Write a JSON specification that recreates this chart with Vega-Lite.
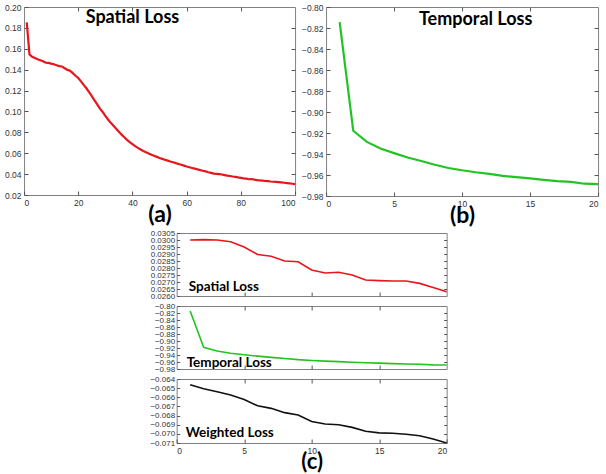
{
  "$schema": "https://vega.github.io/schema/vega-lite/v6.json",
  "padding": {"left": 4, "top": 2, "right": 2, "bottom": 0},
  "background": "white",
  "center": true,
  "spacing": 0,
  "config": {
    "view": {"stroke": "#808080", "strokeWidth": 1},
    "axis": {
      "domain": false, "grid": false, "tickColor": "#555", "tickSize": -4, "labelPadding": 7,
      "labelFont": "Liberation Sans", "labelFontSize": 8.5, "labelColor": "#333",
      "titleFont": "Lato", "titleFontWeight": "bold", "titleFontSize": 23, "titleColor": "#000", "titlePadding": 0
    },
    "text": {"font": "Lato", "fontWeight": "bold", "color": "#000"}
  },
  "datasets": {
    "spatial100": [
      {"epoch":1,"loss":0.1852},{"epoch":2,"loss":0.1546},{"epoch":3,"loss":0.1524},{"epoch":4,"loss":0.1512},{"epoch":5,"loss":0.1499},
      {"epoch":6,"loss":0.1490},{"epoch":7,"loss":0.1480},{"epoch":8,"loss":0.1466},{"epoch":9,"loss":0.1465},{"epoch":10,"loss":0.1458},
      {"epoch":11,"loss":0.1452},{"epoch":12,"loss":0.1443},{"epoch":13,"loss":0.1434},{"epoch":14,"loss":0.1430},{"epoch":15,"loss":0.1414},
      {"epoch":16,"loss":0.1398},{"epoch":17,"loss":0.1389},{"epoch":18,"loss":0.1367},{"epoch":19,"loss":0.1342},{"epoch":20,"loss":0.1320},
      {"epoch":21,"loss":0.1288},{"epoch":22,"loss":0.1254},{"epoch":23,"loss":0.1222},{"epoch":24,"loss":0.1184},{"epoch":25,"loss":0.1146},
      {"epoch":26,"loss":0.1106},{"epoch":27,"loss":0.1068},{"epoch":28,"loss":0.1027},{"epoch":29,"loss":0.0995},{"epoch":30,"loss":0.0957},
      {"epoch":31,"loss":0.0923},{"epoch":32,"loss":0.0891},{"epoch":33,"loss":0.0863},{"epoch":34,"loss":0.0835},{"epoch":35,"loss":0.0806},
      {"epoch":36,"loss":0.0778},{"epoch":37,"loss":0.0753},{"epoch":38,"loss":0.0728},{"epoch":39,"loss":0.0706},{"epoch":40,"loss":0.0687},
      {"epoch":41,"loss":0.0668},{"epoch":42,"loss":0.0651},{"epoch":43,"loss":0.0636},{"epoch":44,"loss":0.0622},{"epoch":45,"loss":0.0609},
      {"epoch":46,"loss":0.0597},{"epoch":47,"loss":0.0586},{"epoch":48,"loss":0.0575},{"epoch":49,"loss":0.0565},{"epoch":50,"loss":0.0555},
      {"epoch":51,"loss":0.0546},{"epoch":52,"loss":0.0537},{"epoch":53,"loss":0.0529},{"epoch":54,"loss":0.0521},{"epoch":55,"loss":0.0514},
      {"epoch":56,"loss":0.0505},{"epoch":57,"loss":0.0497},{"epoch":58,"loss":0.0489},{"epoch":59,"loss":0.0481},{"epoch":60,"loss":0.0473},
      {"epoch":61,"loss":0.0466},{"epoch":62,"loss":0.0459},{"epoch":63,"loss":0.0452},{"epoch":64,"loss":0.0445},{"epoch":65,"loss":0.0438},
      {"epoch":66,"loss":0.0432},{"epoch":67,"loss":0.0426},{"epoch":68,"loss":0.0418},{"epoch":69,"loss":0.0412},{"epoch":70,"loss":0.0405},
      {"epoch":71,"loss":0.0403},{"epoch":72,"loss":0.0400},{"epoch":73,"loss":0.0396},{"epoch":74,"loss":0.0391},{"epoch":75,"loss":0.0386},
      {"epoch":76,"loss":0.0382},{"epoch":77,"loss":0.0377},{"epoch":78,"loss":0.0373},{"epoch":79,"loss":0.0368},{"epoch":80,"loss":0.0364},
      {"epoch":81,"loss":0.0360},{"epoch":82,"loss":0.0357},{"epoch":83,"loss":0.0351},{"epoch":84,"loss":0.0353},{"epoch":85,"loss":0.0347},
      {"epoch":86,"loss":0.0343},{"epoch":87,"loss":0.0340},{"epoch":88,"loss":0.0337},{"epoch":89,"loss":0.0334},{"epoch":90,"loss":0.0332},
      {"epoch":91,"loss":0.0329},{"epoch":92,"loss":0.0327},{"epoch":93,"loss":0.0325},{"epoch":94,"loss":0.0323},{"epoch":95,"loss":0.0320},
      {"epoch":96,"loss":0.0317},{"epoch":97,"loss":0.0314},{"epoch":98,"loss":0.0311},{"epoch":99,"loss":0.0308},{"epoch":100,"loss":0.0305}
    ],
    "temporal20": [
      {"epoch":1,"loss":-0.8144},{"epoch":2,"loss":-0.9179},{"epoch":3,"loss":-0.9285},{"epoch":4,"loss":-0.9348},{"epoch":5,"loss":-0.9392},
      {"epoch":6,"loss":-0.9433},{"epoch":7,"loss":-0.9467},{"epoch":8,"loss":-0.9502},{"epoch":9,"loss":-0.9533},{"epoch":10,"loss":-0.9555},
      {"epoch":11,"loss":-0.9574},{"epoch":12,"loss":-0.9589},{"epoch":13,"loss":-0.9608},{"epoch":14,"loss":-0.9621},{"epoch":15,"loss":-0.9633},
      {"epoch":16,"loss":-0.9646},{"epoch":17,"loss":-0.9658},{"epoch":18,"loss":-0.9665},{"epoch":19,"loss":-0.9683},{"epoch":20,"loss":-0.9687}
    ],
    "spatial20": [
      {"epoch":1,"loss":0.03000},{"epoch":2,"loss":0.03003},{"epoch":3,"loss":0.03000},{"epoch":4,"loss":0.02988},{"epoch":5,"loss":0.02950},
      {"epoch":6,"loss":0.02896},{"epoch":7,"loss":0.02884},{"epoch":8,"loss":0.02850},{"epoch":9,"loss":0.02845},{"epoch":10,"loss":0.02786},
      {"epoch":11,"loss":0.02764},{"epoch":12,"loss":0.02770},{"epoch":13,"loss":0.02750},{"epoch":14,"loss":0.02714},{"epoch":15,"loss":0.02710},
      {"epoch":16,"loss":0.02707},{"epoch":17,"loss":0.02707},{"epoch":18,"loss":0.02690},{"epoch":19,"loss":0.02661},{"epoch":20,"loss":0.02630}
    ],
    "weighted20": [
      {"epoch":1,"loss":-0.06464},{"epoch":2,"loss":-0.06507},{"epoch":3,"loss":-0.06539},{"epoch":4,"loss":-0.06575},{"epoch":5,"loss":-0.06625},
      {"epoch":6,"loss":-0.06693},{"epoch":7,"loss":-0.06721},{"epoch":8,"loss":-0.06768},{"epoch":9,"loss":-0.06793},{"epoch":10,"loss":-0.06864},
      {"epoch":11,"loss":-0.06893},{"epoch":12,"loss":-0.06900},{"epoch":13,"loss":-0.06929},{"epoch":14,"loss":-0.06971},{"epoch":15,"loss":-0.06989},
      {"epoch":16,"loss":-0.06993},{"epoch":17,"loss":-0.07004},{"epoch":18,"loss":-0.07021},{"epoch":19,"loss":-0.07057},{"epoch":20,"loss":-0.07100}
    ]
  },
  "vconcat": [
    {
      "spacing": 0,
      "hconcat": [
        {
          "width": 271, "height": 188,
          "resolve": {"axis": {"x": "independent", "y": "independent"}},
          "layer": [
            {
              "data": {"name": "spatial100"},
              "mark": {"type": "line", "color": "#e6161c", "strokeWidth": 2.2},
              "encoding": {
                "x": {"field": "epoch", "type": "quantitative", "scale": {"domain": [0, 100], "nice": false},
                      "axis": {"values": [0, 20, 40, 60, 80, 100], "title": "(a)", "titlePadding": -3, "labelOverlap": false}},
                "y": {"field": "loss", "type": "quantitative", "scale": {"domain": [0.02, 0.2], "nice": false, "zero": false},
                      "axis": {"values": [0.02, 0.04, 0.06, 0.08, 0.1, 0.12, 0.14, 0.16, 0.18, 0.2], "format": ".2f", "title": null, "labelOverlap": false}}
              }
            },
            {
              "data": {"values": [{"label": "Spatial Loss"}]},
              "mark": {"type": "text", "fontSize": 18, "align": "center", "baseline": "middle"},
              "encoding": {
                "x": {"datum": 40, "type": "quantitative", "axis": {"orient": "top", "values": [20, 40, 60, 80], "labels": false, "title": null}},
                "y": {"datum": 0.189, "type": "quantitative", "axis": {"orient": "right", "values": [0.04, 0.06, 0.08, 0.1, 0.12, 0.14, 0.16, 0.18], "labels": false, "title": null}},
                "text": {"field": "label"}
              }
            }
          ]
        },
        {
          "width": 272, "height": 189,
          "resolve": {"axis": {"x": "independent", "y": "independent"}},
          "layer": [
            {
              "data": {"name": "temporal20"},
              "mark": {"type": "line", "color": "#22c322", "strokeWidth": 2.2},
              "encoding": {
                "x": {"field": "epoch", "type": "quantitative", "scale": {"domain": [0, 20], "nice": false},
                      "axis": {"values": [0, 5, 10, 15, 20], "title": "(b)", "titlePadding": -3, "labelOverlap": false}},
                "y": {"field": "loss", "type": "quantitative", "scale": {"domain": [-0.98, -0.8], "nice": false, "zero": false},
                      "axis": {"values": [-0.98, -0.96, -0.94, -0.92, -0.9, -0.88, -0.86, -0.84, -0.82, -0.8], "format": ".2f", "title": null, "labelOverlap": false}}
              }
            },
            {
              "data": {"values": [{"label": "Temporal Loss"}]},
              "mark": {"type": "text", "fontSize": 18, "align": "center", "baseline": "middle"},
              "encoding": {
                "x": {"datum": 11, "type": "quantitative", "axis": {"orient": "top", "values": [5, 10, 15], "labels": false, "title": null}},
                "y": {"datum": -0.812, "type": "quantitative", "axis": {"orient": "right", "values": [-0.96, -0.94, -0.92, -0.9, -0.88, -0.86, -0.84, -0.82], "labels": false, "title": null}},
                "text": {"field": "label"}
              }
            }
          ]
        }
      ]
    },
    {
      "spacing": 0,
      "vconcat": [
        {
          "width": 270, "height": 63,
          "resolve": {"axis": {"y": "independent"}},
          "layer": [
            {
              "data": {"name": "spatial20"},
              "mark": {"type": "line", "color": "#e6161c", "strokeWidth": 1.6},
              "encoding": {
                "x": {"field": "epoch", "type": "quantitative", "scale": {"domain": [0, 20], "nice": false},
                      "axis": {"values": [5, 10, 15], "labels": false, "title": null}},
                "y": {"field": "loss", "type": "quantitative", "scale": {"domain": [0.026, 0.0305], "nice": false, "zero": false},
                      "axis": {"values": [0.026, 0.0265, 0.027, 0.0275, 0.028, 0.0285, 0.029, 0.0295, 0.03, 0.0305], "format": ".4f", "title": null, "labelFontSize": 8, "tickSize": -3, "labelPadding": 5, "labelOverlap": false}}
              }
            },
            {
              "data": {"values": [{"label": "Spatial Loss"}]},
              "mark": {"type": "text", "fontSize": 13.5, "align": "left", "baseline": "middle"},
              "encoding": {
                "x": {"datum": 0.9, "type": "quantitative"},
                "y": {"datum": 0.02663, "type": "quantitative", "axis": {"orient": "right", "values": [0.0265, 0.027, 0.0275, 0.028, 0.0285, 0.029, 0.0295, 0.03], "labels": false, "title": null, "tickSize": -3}},
                "text": {"field": "label"}
              }
            }
          ]
        },
        {
          "width": 270, "height": 63,
          "resolve": {"axis": {"x": "independent", "y": "independent"}},
          "layer": [
            {
              "data": {"name": "temporal20"},
              "mark": {"type": "line", "color": "#22c322", "strokeWidth": 1.6},
              "encoding": {
                "x": {"field": "epoch", "type": "quantitative", "scale": {"domain": [0, 20], "nice": false},
                      "axis": {"values": [5, 10, 15], "labels": false, "title": null}},
                "y": {"field": "loss", "type": "quantitative", "scale": {"domain": [-0.98, -0.8], "nice": false, "zero": false},
                      "axis": {"values": [-0.98, -0.96, -0.94, -0.92, -0.9, -0.88, -0.86, -0.84, -0.82, -0.8], "format": ".2f", "title": null, "labelFontSize": 8, "tickSize": -3, "labelPadding": 5, "labelOverlap": false}}
              }
            },
            {
              "data": {"values": [{"label": "Temporal Loss"}]},
              "mark": {"type": "text", "fontSize": 13.5, "align": "left", "baseline": "middle"},
              "encoding": {
                "x": {"datum": 0.74, "type": "quantitative", "axis": {"orient": "top", "values": [5, 10, 15], "labels": false, "title": null}},
                "y": {"datum": -0.963, "type": "quantitative", "axis": {"orient": "right", "values": [-0.96, -0.94, -0.92, -0.9, -0.88, -0.86, -0.84, -0.82], "labels": false, "title": null, "tickSize": -3}},
                "text": {"field": "label"}
              }
            }
          ]
        },
        {
          "width": 270, "height": 64,
          "resolve": {"axis": {"x": "independent", "y": "independent"}},
          "layer": [
            {
              "data": {"name": "weighted20"},
              "mark": {"type": "line", "color": "#111111", "strokeWidth": 1.6},
              "encoding": {
                "x": {"field": "epoch", "type": "quantitative", "scale": {"domain": [0, 20], "nice": false},
                      "axis": {"values": [0, 5, 10, 15, 20], "title": "(c)", "titleFontSize": 22, "titlePadding": -3, "labelOverlap": false}},
                "y": {"field": "loss", "type": "quantitative", "scale": {"domain": [-0.071, -0.064], "nice": false, "zero": false},
                      "axis": {"values": [-0.071, -0.07, -0.069, -0.068, -0.067, -0.066, -0.065, -0.064], "format": ".3f", "title": null, "labelFontSize": 8, "tickSize": -3, "labelPadding": 5, "labelOverlap": false}}
              }
            },
            {
              "data": {"values": [{"label": "Weighted Loss"}]},
              "mark": {"type": "text", "fontSize": 13.5, "align": "left", "baseline": "middle"},
              "encoding": {
                "x": {"datum": 0.67, "type": "quantitative", "axis": {"orient": "top", "values": [5, 10, 15], "labels": false, "title": null}},
                "y": {"datum": -0.0699, "type": "quantitative", "axis": {"orient": "right", "values": [-0.07, -0.069, -0.068, -0.067, -0.066, -0.065], "labels": false, "title": null, "tickSize": -3}},
                "text": {"field": "label"}
              }
            }
          ]
        }
      ]
    }
  ]
}
